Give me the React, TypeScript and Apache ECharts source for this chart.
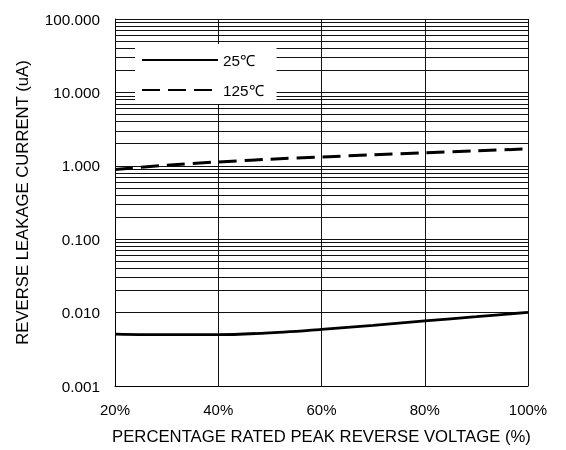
import React, { useEffect, useRef } from 'react';
import * as echarts from 'echarts';

const xValues = [20, 30, 40, 50, 60, 70, 80, 90, 100];
const leak25 = [0.0051, 0.005, 0.005, 0.0053, 0.0059, 0.0067, 0.0077, 0.0088, 0.0101];
const leak125 = [0.89, 1.02, 1.13, 1.23, 1.32, 1.41, 1.5, 1.6, 1.7];
const seriesNames = ['25℃', '125℃'];
const decades = [0.001, 0.01, 0.1, 1, 10];
const minorSteps = [2, 3, 4, 5, 6, 7, 8, 9];
const xAxisTitle = 'PERCENTAGE RATED PEAK REVERSE VOLTAGE (%)';
const yAxisTitle = 'REVERSE LEAKAGE CURRENT (uA)';

export default function App() {
  const ref = useRef<HTMLDivElement>(null);
  useEffect(() => {
    const chart = echarts.init(ref.current as HTMLDivElement, null, { renderer: 'svg' });
    const font = '"Liberation Sans", Arial, Helvetica, sans-serif';
    const minorLines = decades.flatMap((d) =>
      minorSteps.map((m) => ({ yAxis: Number((d * m).toPrecision(3)) }))
    );
    chart.setOption({
      animation: false,
      grid: { left: 115, right: 38, top: 19, bottom: 64 },
      xAxis: {
        type: 'value',
        min: 20,
        max: 100,
        interval: 20,
        axisLine: { lineStyle: { color: '#000', width: 1 } },
        axisTick: { show: false },
        splitLine: { show: true, lineStyle: { color: '#111', width: 1 } },
        axisLabel: { formatter: '{value}%', color: '#000', fontSize: 15, fontFamily: font, margin: 16 },
        name: xAxisTitle,
        nameLocation: 'middle',
        nameGap: 42,
        nameTextStyle: { color: '#000', fontSize: 16.7, fontFamily: font },
      },
      yAxis: {
        type: 'log',
        logBase: 10,
        min: 0.001,
        max: 100,
        splitNumber: 5,
        axisLine: { show: true, lineStyle: { color: '#000', width: 1 } },
        axisTick: { show: false },
        splitLine: { show: true, lineStyle: { color: '#111', width: 1 } },
        axisLabel: {
          formatter: (v: number) => v.toFixed(3),
          color: '#000',
          fontSize: 15.3,
          fontFamily: font,
          margin: 15,
        },
        name: yAxisTitle,
        nameLocation: 'middle',
        nameGap: 84,
        nameTextStyle: { color: '#000', fontSize: 16.7, fontFamily: font },
      },
      legend: {
        data: seriesNames,
        orient: 'vertical',
        left: 135,
        top: 44,
        z: 10,
        padding: [6, 13, 4, 6],
        itemWidth: 76,
        itemHeight: 20,
        itemGap: 10,
        backgroundColor: '#fff',
        itemStyle: { opacity: 0 },
        textStyle: { color: '#000', fontSize: 15.3, fontFamily: font, lineHeight: 20 },
      },
      series: [
        {
          name: 'grid-minor',
          type: 'line',
          data: [],
          z: 1,
          silent: true,
          markLine: {
            silent: true,
            z: 2,
            symbol: ['none', 'none'],
            label: { show: false },
            lineStyle: { color: '#111', width: 1, type: 'solid' },
            emphasis: { disabled: true },
            data: minorLines,
          },
        },
        {
          name: seriesNames[0],
          type: 'line',
          data: xValues.map((x, i) => [x, leak25[i]]),
          smooth: 0.3,
          symbol: 'none',
          z: 5,
          lineStyle: { color: '#000', width: 2.8, type: 'solid' },
          itemStyle: { color: '#000' },
        },
        {
          name: seriesNames[1],
          type: 'line',
          data: xValues.map((x, i) => [x, leak125[i]]),
          smooth: 0.3,
          symbol: 'none',
          z: 5,
          lineStyle: { color: '#000', width: 3, type: [18, 8] },
          itemStyle: { color: '#000' },
        },
      ],
    });
    return () => chart.dispose();
  }, []);
  return <div ref={ref} style={{ position: 'fixed', left: 0, top: 0, width: 566, height: 450 }} />;
}
